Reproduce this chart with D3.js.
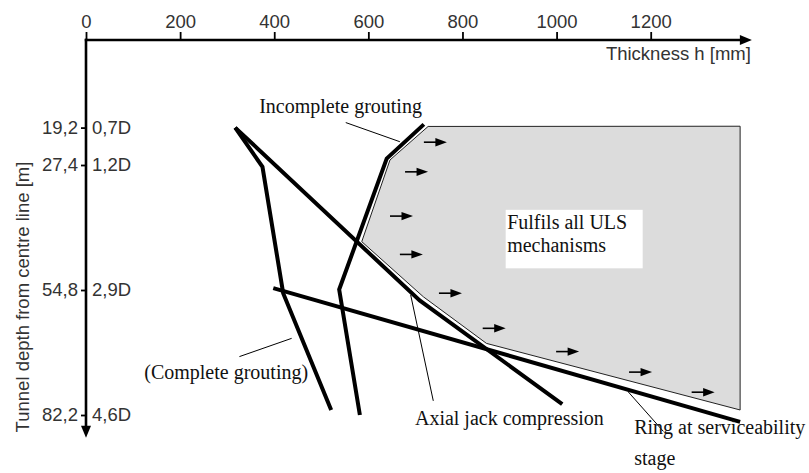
<!DOCTYPE html>
<html>
<head>
<meta charset="utf-8">
<script src="https://cdn.jsdelivr.net/npm/d3@7/dist/d3.min.js"></script>
<style>
  html, body { margin: 0; padding: 0; background: #fff; }
  svg { display: block; }
</style>
</head>
<body>
<svg id="chart" width="809" height="473"></svg>
<script>
// ---------- data (thickness h in mm, depth in m) ----------
const thicknessTicks = [0, 200, 400, 600, 800, 1000, 1200];
const depthTicks = [19.2, 27.4, 54.8, 82.2];
const depthLabels = ["19,2", "27,4", "54,8", "82,2"];
const diameterLabels = ["0,7D", "1,2D", "2,9D", "4,6D"];
const xAxisTitle = "Thickness h [mm]";
const yAxisTitle = "Tunnel depth from centre line [m]";
const xAxisEnd = 1415;   // mm, arrow tip
const yAxisEnd = 87.2;   // m, arrow tip

// curves: [thickness mm, depth m]
const completeGrouting   = [[317, 19.2], [375, 27.8], [419, 55.5], [521, 81.1]];
const incompleteGrouting = [[718, 18.5], [639, 26.0], [538, 54.7], [582, 82.2]];
const axialJack          = [[317, 19.2], [709, 57.1], [1012, 79.8]];
const ringService        = [[398, 54.4], [1390, 83.7]];

// admissible region (fulfils all ULS mechanisms)
const ulsRegion = [[727, 18.95], [1390, 18.9], [1390, 81.1], [851, 66.5],
                   [717, 56.3], [586, 44.2], [646, 26.3]];

// direction arrows inside region: start [mm, m]
const regionArrows = [[718, 22.4], [678, 28.9], [646, 38.6], [667, 47.0],
                      [750, 55.5], [843, 63.2], [999, 68.3], [1154, 72.8], [1287, 77.2]];

// annotation labels: text, [mm, m] anchor, anchor mode
const labels = [
  {text: "Incomplete grouting", pos: [368, 15.9], anchor: "start"},
  {text: "(Complete grouting)", pos: [472, 74.2], anchor: "end"},
  {text: "Axial jack compression", pos: [699, 84.4], anchor: "start"},
  {text: "Ring at serviceability", pos: [1165, 86.4], anchor: "start"},
  {text: "stage", pos: [1165, 93.1], anchor: "start"}
];
// leader lines [[mm, m],[mm, m]]
const leaders = [
  [[552, 18.1], [667, 22.3]],
  [[326, 69.4], [437, 65.4]],
  [[690, 55.9], [738, 79.1]],
  [[1152, 77.1], [1227, 85.8]]
];
const boxText = ["Fulfils all ULS", "mechanisms"];
const boxPos = [[895, 41.5], [895, 46.4]];

// ---------- drawing ----------
const svg = d3.select("#chart");
const x = d3.scaleLinear().domain([0, 1200]).range([86, 650.7]);
const y = d3.scaleLinear().domain([0, 82.2]).range([40, 415]);
const SANS = "'Liberation Sans', Arial, Helvetica, sans-serif";
const SERIF = "'Liberation Serif', 'Times New Roman', serif";
const line = d3.line().x(d => x(d[0])).y(d => y(d[1]));

// region polygon
svg.append("path")
  .attr("d", line(ulsRegion) + "Z")
  .attr("fill", "#dcdcdc")
  .attr("stroke", "#222")
  .attr("stroke-width", 1);

// white box with text
const bx = x(boxPos[0][0]), by = y(boxPos[0][1]);
svg.append("rect")
  .attr("x", bx - 1.5).attr("y", by - 19.5)
  .attr("width", 137).attr("height", 58.5)
  .attr("fill", "#fff");
boxText.forEach((t, i) => {
  svg.append("text")
    .attr("x", x(boxPos[i][0])).attr("y", y(boxPos[i][1]))
    .attr("font-family", SERIF).attr("font-size", 20)
    .attr("fill", "#111").text(t);
});

// region arrows
const arrowLenPx = 23;
regionArrows.forEach(a => {
  const x0 = x(a[0]), y0 = y(a[1]);
  svg.append("line")
    .attr("x1", x0).attr("y1", y0).attr("x2", x0 + arrowLenPx - 10).attr("y2", y0)
    .attr("stroke", "#000").attr("stroke-width", 1.6);
  svg.append("path")
    .attr("d", `M${x0 + arrowLenPx - 11.5},${y0 - 4.2} L${x0 + arrowLenPx},${y0} L${x0 + arrowLenPx - 11.5},${y0 + 4.2} Z`)
    .attr("fill", "#000");
});

// thick curves
[completeGrouting, incompleteGrouting, axialJack, ringService].forEach(c => {
  svg.append("path")
    .attr("d", line(c))
    .attr("fill", "none")
    .attr("stroke", "#000")
    .attr("stroke-width", 4)
    .attr("stroke-linejoin", "miter")
    .attr("stroke-linecap", "butt");
});

// leader lines
leaders.forEach(l => {
  svg.append("line")
    .attr("x1", x(l[0][0])).attr("y1", y(l[0][1]))
    .attr("x2", x(l[1][0])).attr("y2", y(l[1][1]))
    .attr("stroke", "#000").attr("stroke-width", 1);
});

// labels
labels.forEach(l => {
  svg.append("text")
    .attr("x", x(l.pos[0])).attr("y", y(l.pos[1]))
    .attr("text-anchor", l.anchor)
    .attr("font-family", SERIF).attr("font-size", 20)
    .attr("fill", "#111").text(l.text);
});

// top axis
const gx = svg.append("g").attr("transform", `translate(0,${y(0)})`)
  .call(d3.axisTop(x).tickValues(thicknessTicks).tickSize(8).tickPadding(4)
        .tickFormat(d => String(d)).tickSizeOuter(0));
gx.select(".domain").remove();
gx.selectAll(".tick line").attr("stroke", "#000").attr("stroke-width", 1.8);
gx.selectAll(".tick text").attr("font-family", SANS).attr("font-size", 18.5).attr("fill", "#333");

svg.append("line")
  .attr("x1", x(0) - 1.2).attr("y1", y(0)).attr("x2", x(xAxisEnd) - 8).attr("y2", y(0))
  .attr("stroke", "#000").attr("stroke-width", 2.6);
svg.append("path")
  .attr("d", `M${x(xAxisEnd) - 12},${y(0) - 5} L${x(xAxisEnd)},${y(0)} L${x(xAxisEnd) - 12},${y(0) + 5} Z`)
  .attr("fill", "#000");
svg.append("text")
  .attr("x", x(xAxisEnd) - 1).attr("y", y(0) + 19.5)
  .attr("text-anchor", "end")
  .attr("font-family", SANS).attr("font-size", 18.5).attr("fill", "#333")
  .text(xAxisTitle);

// left axis
const gy = svg.append("g").attr("transform", `translate(${x(0)},0)`)
  .call(d3.axisLeft(y).tickValues(depthTicks).tickSize(5).tickPadding(3)
        .tickFormat((d, i) => depthLabels[i]).tickSizeOuter(0));
gy.select(".domain").remove();
gy.selectAll(".tick line").attr("stroke", "#000").attr("stroke-width", 1.8);
gy.selectAll(".tick text").attr("font-family", SANS).attr("font-size", 18.5).attr("fill", "#333");

svg.append("line")
  .attr("x1", x(0)).attr("y1", y(0) - 1.2).attr("x2", x(0)).attr("y2", y(yAxisEnd) - 8)
  .attr("stroke", "#000").attr("stroke-width", 2.6);
svg.append("path")
  .attr("d", `M${x(0) - 5},${y(yAxisEnd) - 12} L${x(0)},${y(yAxisEnd)} L${x(0) + 5},${y(yAxisEnd) - 12} Z`)
  .attr("fill", "#000");

svg.append("g").selectAll("text").data(depthTicks).join("text")
  .attr("x", x(0) + 6).attr("y", d => y(d)).attr("dy", "0.35em")
  .attr("font-family", SANS).attr("font-size", 18.5).attr("fill", "#333")
  .text((d, i) => diameterLabels[i]);

svg.append("text")
  .attr("transform", `translate(28.5,297) rotate(-90)`)
  .attr("text-anchor", "middle")
  .attr("font-family", SANS).attr("font-size", 18.5).attr("fill", "#333")
  .text(yAxisTitle);
</script>
</body>
</html>
